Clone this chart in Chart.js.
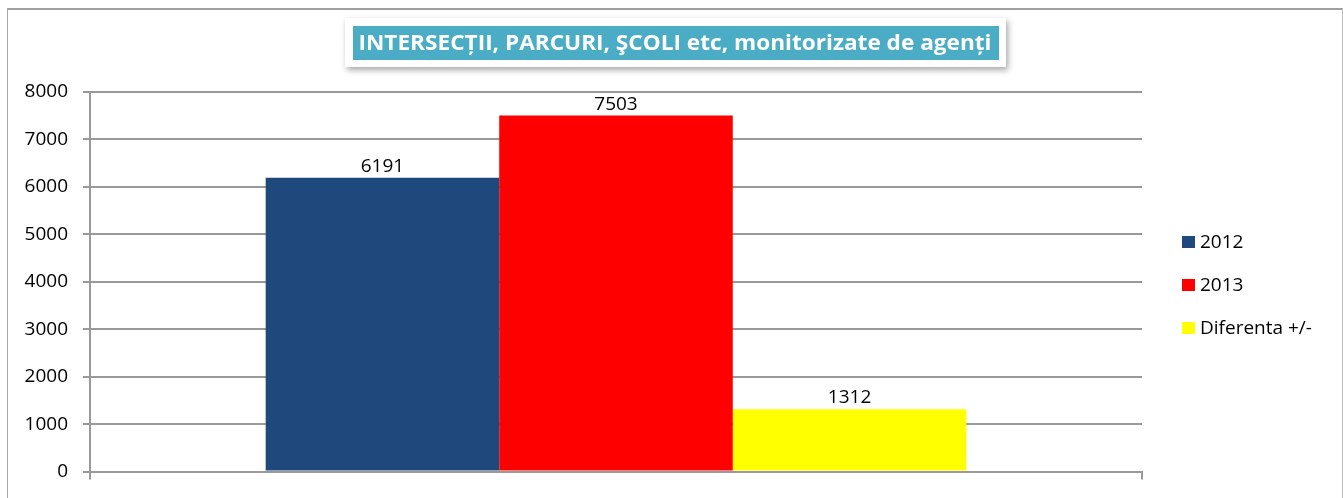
<!DOCTYPE html>
<html>
<head>
  <title>Intersectii, parcuri, scoli</title>
  <script src="https://cdn.jsdelivr.net/npm/chart.js"></script>
  <style>
    body {
      margin: 0;
      background: #fff;
      overflow: hidden;
    }
    #wrap {
      position: relative;
      width: 1343px;
      height: 498px;
    }
    #frame {
      position: absolute;
      left: 7px;
      top: 8px;
      width: 1334px;
      height: 500px;
      border-left: 1px solid #a6a6a6;
      border-top: 2px solid #a0a0a0;
      border-right: 1px solid #bdbdbd;
    }
    canvas {
      position: absolute;
      left: 0;
      top: 0;
    }
  </style>
</head>
<body>
  <div id="wrap">
    <div id="frame"></div>
    <canvas id="chart" width="1343" height="498"></canvas>
  </div>

  <script>
    const titleText = 'INTERSECȚII, PARCURI, ŞCOLI etc, monitorizate de agenți';
    const categories = [''];
    const seriesNames = ['2012', '2013', 'Diferenta +/-'];
    const values2012 = [6191];
    const values2013 = [7503];
    const valuesDiff = [1312];
    const yMax = 8000;
    const yStep = 1000;

    const colors = ['#1f497d', '#ff0000', '#ffff00'];
    const FONT = "'Open Sans', 'Liberation Sans', sans-serif";

    // title box drawn above the plot
    const titleBox = {
      id: 'titleBox',
      afterDraw(chart) {
        const ctx = chart.ctx;
        ctx.save();
        ctx.shadowColor = 'rgba(0,0,0,0.35)';
        ctx.shadowBlur = 6;
        ctx.shadowOffsetX = 2;
        ctx.shadowOffsetY = 3;
        ctx.fillStyle = '#fff';
        ctx.fillRect(345, 18, 661, 49);
        ctx.restore();

        ctx.save();
        ctx.fillStyle = '#4bacc6';
        ctx.fillRect(353, 26, 646, 34);
        // calibri-ish: taller glyphs squeezed to the box width
        ctx.font = 'bold 22px ' + FONT;
        const w = ctx.measureText(titleText).width;
        const sx = 633 / w;
        ctx.translate(675, 44);
        ctx.scale(sx, 1);
        ctx.fillStyle = '#fff';
        ctx.textAlign = 'center';
        ctx.textBaseline = 'middle';
        ctx.fillText(titleText, 0, 0);
        ctx.restore();
      }
    };

    // value labels above each bar
    const valueLabels = {
      id: 'valueLabels',
      afterDatasetsDraw(chart) {
        const ctx = chart.ctx;
        ctx.save();
        ctx.font = '19px ' + FONT;
        ctx.fillStyle = '#000';
        ctx.textAlign = 'center';
        ctx.textBaseline = 'alphabetic';
        chart.data.datasets.forEach((ds, i) => {
          chart.getDatasetMeta(i).data.forEach((bar, j) => {
            ctx.fillText(String(ds.data[j]), bar.x, bar.y - 6);
          });
        });
        ctx.restore();
      }
    };

    // legend on the right
    const sideLegend = {
      id: 'sideLegend',
      afterDraw(chart) {
        const ctx = chart.ctx;
        ctx.save();
        ctx.font = '19px ' + FONT;
        ctx.textBaseline = 'middle';
        ctx.textAlign = 'left';
        chart.data.datasets.forEach((ds, i) => {
          const y = 242 + i * 43;
          ctx.fillStyle = ds.backgroundColor;
          ctx.fillRect(1182, y - 6, 13, 12);
          ctx.fillStyle = '#000';
          ctx.fillText(ds.label, 1200, y + 1);
        });
        ctx.restore();
      }
    };

    const chart = new Chart(document.getElementById('chart').getContext('2d'), {
      type: 'bar',
      data: {
        labels: categories,
        datasets: [
          { label: seriesNames[0], data: values2012, backgroundColor: colors[0] },
          { label: seriesNames[1], data: values2013, backgroundColor: colors[1] },
          { label: seriesNames[2], data: valuesDiff, backgroundColor: colors[2] }
        ]
      },
      options: {
        responsive: false,
        animation: false,
        categoryPercentage: 0.666,
        barPercentage: 1,
        layout: {
          padding: { top: 92, right: 201, bottom: 18, left: 0 }
        },
        plugins: {
          legend: { display: false },
          title: { display: false },
          tooltip: { enabled: false }
        },
        scales: {
          x: {
            ticks: { display: false },
            grid: {
              drawOnChartArea: false,
              tickLength: 8,
              color: '#999',
              lineWidth: 2
            },
            border: { color: '#999', width: 2 },
            afterFit(scale) { scale.height = 8; }
          },
          y: {
            min: 0,
            max: yMax,
            ticks: {
              stepSize: yStep,
              padding: 15,
              color: '#000',
              font: { family: FONT, size: 19 },
              callback: v => String(v)
            },
            grid: {
              color: '#999',
              lineWidth: 2,
              tickLength: 7
            },
            border: { color: '#999', width: 2 },
            afterFit(scale) { scale.width = 90; }
          }
        }
      },
      plugins: [valueLabels, sideLegend, titleBox]
    });
  </script>
</body>
</html>
